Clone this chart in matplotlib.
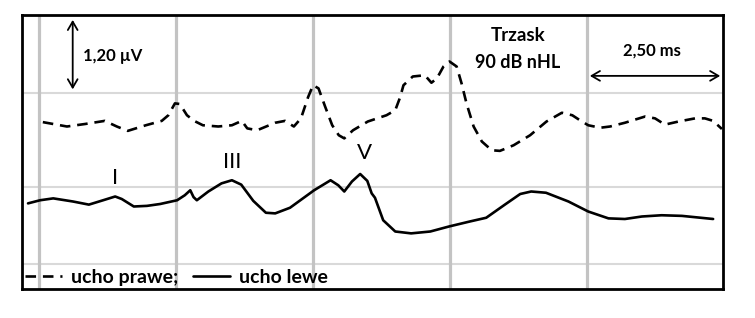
import numpy as np
import matplotlib
matplotlib.use('Agg')
import matplotlib.pyplot as plt

plt.rcParams['font.family'] = ['Lato', 'DejaVu Sans']

# ucho prawe (dashed) - time [ms], amplitude [uV]
t_prawe = [0.07, 0.26, 0.51, 0.84, 1.20, 1.42, 1.62, 1.95, 2.24, 2.36, 2.48, 2.57,
           2.70, 2.83, 2.99, 3.27, 3.52, 3.70, 3.80, 3.98, 4.31, 4.49, 4.65, 4.78,
           4.91, 5.00, 5.10, 5.22, 5.35, 5.47, 5.57, 5.73, 6.00, 6.34, 6.50, 6.59,
           6.65, 6.82, 7.04, 7.16, 7.26, 7.38, 7.49, 7.62, 7.71, 7.80, 7.93, 8.08,
           8.26, 8.41, 8.66, 8.96, 9.26, 9.54, 9.73, 9.87, 10.02, 10.24, 10.42,
           10.69, 11.06, 11.24, 11.42, 11.67, 11.97, 12.15, 12.30, 12.46]
u_prawe = [2.67, 2.64, 2.60, 2.64, 2.69, 2.60, 2.53, 2.62, 2.69, 2.78, 2.97, 2.96,
           2.78, 2.69, 2.62, 2.60, 2.62, 2.69, 2.57, 2.54, 2.66, 2.69, 2.60, 2.73,
           3.07, 3.26, 3.21, 2.92, 2.62, 2.46, 2.41, 2.54, 2.68, 2.78, 2.86, 3.07,
           3.26, 3.40, 3.42, 3.30, 3.37, 3.56, 3.64, 3.56, 3.29, 2.97, 2.60, 2.36,
           2.22, 2.21, 2.30, 2.46, 2.68, 2.82, 2.78, 2.70, 2.62, 2.58, 2.60,
           2.66, 2.76, 2.73, 2.63, 2.68, 2.73, 2.73, 2.69, 2.56]

# ucho lewe (solid)
t_lewe = [-0.20, 0.02, 0.26, 0.62, 0.91, 1.17, 1.39, 1.51, 1.73, 1.97, 2.21, 2.52,
          2.66, 2.76, 2.82, 2.88, 3.09, 3.33, 3.52, 3.69, 3.91, 4.14, 4.31, 4.58,
          5.02, 5.32, 5.46, 5.57, 5.71, 5.86, 5.99, 6.07, 6.13, 6.28, 6.50, 6.79,
          7.14, 7.48, 7.86, 8.16, 8.50, 8.78, 8.98, 9.25, 9.66, 10.02, 10.39,
          10.69, 11.00, 11.36, 11.73, 12.30]
u_lewe = [1.37, 1.42, 1.45, 1.40, 1.35, 1.42, 1.48, 1.44, 1.32, 1.33, 1.36, 1.42,
          1.50, 1.58, 1.47, 1.42, 1.56, 1.69, 1.74, 1.67, 1.41, 1.22, 1.21, 1.30,
          1.58, 1.74, 1.66, 1.56, 1.72, 1.84, 1.73, 1.53, 1.46, 1.10, 0.92, 0.89,
          0.92, 1.00, 1.08, 1.14, 1.35, 1.52, 1.56, 1.54, 1.40, 1.24, 1.13,
          1.12, 1.16, 1.18, 1.17, 1.12]

v_grid = [0, 2.5, 5, 7.5, 10]
h_grid = [0.40, 1.63, 3.14]

peaks = ['I', 'III', 'V']
peak_t = [1.39, 3.52, 5.93]
peak_u = [1.78, 2.03, 2.18]

fig = plt.figure(figsize=(7.55, 3.18), dpi=100)
ax = fig.add_axes([22 / 755, 29 / 318, 701 / 755, 274 / 318])
ax.set_xlim(-0.31, 12.48)
ax.set_ylim(0, 4.384)

for y in h_grid:
    ax.axhline(y, color='#d9d9d9', lw=1.5, zorder=1)
for x in v_grid:
    ax.axvline(x, color='#c3c3c3', lw=2.3, zorder=1)

ax.plot(t_prawe, u_prawe, color='black', lw=1.9, ls=(0, (4, 2.6)),
        dash_capstyle='butt', label='ucho prawe;', zorder=3)
ax.plot(t_lewe, u_lewe, color='black', lw=1.9, solid_joinstyle='round',
        solid_capstyle='round', label='ucho lewe', zorder=3)

for name, x, y in zip(peaks, peak_t, peak_u):
    ax.text(x, y, name, fontsize=16, ha='center', va='center')

# scale bars
ax.annotate('', xy=(0.615, 3.15), xytext=(0.615, 4.35),
            arrowprops=dict(arrowstyle='<->,head_length=0.6,head_width=0.35', lw=1.3, color='black'))
ax.text(0.81, 3.73, '1,20 µV', fontsize=12, fontweight='bold', ha='left', va='center')
ax.annotate('', xy=(10.0, 3.41), xytext=(12.48, 3.41),
            arrowprops=dict(arrowstyle='<->,head_length=0.6,head_width=0.35', lw=1.3, color='black'))
ax.text(11.19, 3.82, '2,50 ms', fontsize=12, fontweight='bold', ha='center', va='center')
ax.text(8.74, 4.06, 'Trzask', fontsize=13.5, fontweight='bold', ha='center', va='center')
ax.text(8.74, 3.62, '90 dB nHL', fontsize=13, fontweight='bold', ha='center', va='center')

ax.legend(loc='lower left', ncol=2, frameon=False, handlelength=1.9, handletextpad=0.45,
          columnspacing=0.8, borderaxespad=0.0, borderpad=0.15,
          prop={'weight': 'bold', 'size': 14})

ax.set_xticks([])
ax.set_yticks([])
for s in ax.spines.values():
    s.set_linewidth(2)
    s.set_zorder(4)

fig.savefig('out.png', dpi=100)
